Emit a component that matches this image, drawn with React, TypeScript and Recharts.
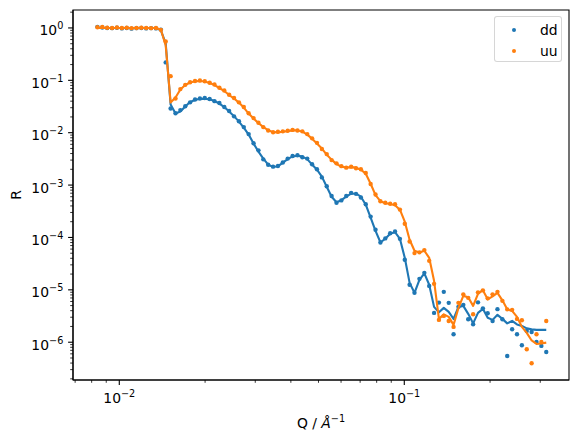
import React from "react";
import {
  ComposedChart,
  Line,
  Scatter,
  XAxis,
  YAxis,
  Legend,
  ReferenceArea,
} from "recharts";

const FONT = "'DejaVu Sans', sans-serif";
const BLUE = "#1f77b4";
const ORANGE = "#ff7f0e";

// Q / Å^-1
const qValues = [
  0.008381, 0.008718, 0.009068, 0.009433, 0.009812, 0.01021, 0.01062, 0.01104, 0.01149, 0.01195,
  0.01243, 0.01293, 0.01345, 0.01399, 0.01455, 0.01514, 0.01575, 0.01638, 0.01704, 0.01772,
  0.01844, 0.01918, 0.01995, 0.02075, 0.02158, 0.02245, 0.02336, 0.02429, 0.02527, 0.02629,
  0.02734, 0.02844, 0.02959, 0.03078, 0.03201, 0.0333, 0.03464, 0.03603, 0.03748, 0.03899,
  0.04056, 0.04219, 0.04388, 0.04565, 0.04748, 0.04939, 0.05138, 0.05344, 0.05559, 0.05783,
  0.06015, 0.06257, 0.06509, 0.0677, 0.07043, 0.07326, 0.0762, 0.07927, 0.08245, 0.08577,
  0.08922, 0.0928, 0.09653, 0.1004, 0.1044, 0.1086, 0.113, 0.1176, 0.1223, 0.1272,
  0.1323, 0.1376, 0.1432, 0.1489, 0.1549, 0.1611, 0.1676, 0.1744, 0.1814, 0.1887,
  0.1962, 0.2041, 0.2123, 0.2209, 0.2297, 0.239, 0.2486, 0.2586, 0.269, 0.2798,
  0.291, 0.3027, 0.3149,
];

// measured reflectivity, dd channel
const ddR = [
  1.05, 1.02, 1.0, 0.99, 1.01, 0.98, 1.0, 0.97, 0.99, 1.0,
  0.98, 0.99, 0.98, 0.93, 0.22, 0.029, 0.0235, 0.027, 0.032, 0.038,
  0.043, 0.045, 0.046, 0.044, 0.04, 0.037, 0.031, 0.026, 0.0205, 0.0165,
  0.0128, 0.0094, 0.0063, 0.0046, 0.0031, 0.00245, 0.00225, 0.00232, 0.0027, 0.0032,
  0.0036, 0.0037, 0.0034, 0.0032, 0.0025, 0.002, 0.0014, 0.00095, 0.00062, 0.00046,
  0.00051, 0.00062, 0.00071, 0.00068, 0.00058, 0.00043, 0.00025, 0.00014, 8.0e-5, 9.6e-5,
  1.2e-4, 1.3e-4, 9.4e-5, 3.75e-5, 1.25e-5, 8.8e-6, 1.62e-5, 2.11e-5, 1.19e-5, 3.63e-6,
  5.71e-6, 9.16e-6, 5.64e-6, 1.42e-6, 4.73e-6, 5.17e-6, 2.75e-6, 2.21e-6, 5.77e-6, 4.43e-6,
  3.58e-6, 2.55e-6, 4.28e-6, 2.75e-6, 5.47e-7, 1.77e-6, 1.42e-6, 8.77e-7, 1.64e-6, 1.57e-6,
  1.01e-6, 8.5e-7, 6.5e-7,
];

// model curve, dd channel
const ddFit = [
  1.0, 1.0, 1.0, 1.0, 1.0, 1.0, 1.0, 1.0, 1.0, 1.0,
  1.0, 1.0, 1.0, 0.896, 0.506, 0.0344, 0.0232, 0.0253, 0.0316, 0.0385,
  0.042, 0.0443, 0.0445, 0.0433, 0.0402, 0.036, 0.0309, 0.0253, 0.0207, 0.0163,
  0.01253, 0.0092, 0.00619, 0.00436, 0.0032, 0.00246, 0.00222, 0.00228, 0.00268, 0.00313,
  0.00352, 0.00365, 0.00349, 0.00313, 0.00246, 0.00197, 0.00145, 0.000932, 0.0006, 0.000471,
  0.000514, 0.0006, 0.000685, 0.000685, 0.0006, 0.000422, 0.000238, 0.000134, 8.09e-5, 9.44e-5,
  1.18e-4, 1.26e-4, 9.44e-5, 4.09e-5, 1.36e-5, 8.77e-6, 1.55e-5, 2.07e-5, 1.25e-5, 4.73e-6,
  3.72e-6, 4.53e-6, 3.79e-6, 2.79e-6, 4.73e-6, 4.94e-6, 3.48e-6, 2.29e-6, 3.63e-6, 4.34e-6,
  2.92e-6, 2.67e-6, 3.33e-6, 2.79e-6, 2.29e-6, 2.55e-6, 2.19e-6, 2.05e-6, 1.84e-6, 1.76e-6,
  1.72e-6, 1.72e-6, 1.72e-6,
];

// measured reflectivity, uu channel
const uuR = [
  1.03, 1.05, 1.01, 1.0, 1.02, 1.0, 1.01, 0.99, 1.0, 1.01,
  1.0, 0.99, 1.0, 0.92, 0.55, 0.12, 0.045, 0.068, 0.082, 0.092,
  0.097, 0.099, 0.096, 0.09, 0.083, 0.072, 0.064, 0.053, 0.046, 0.038,
  0.031, 0.0235, 0.019, 0.0155, 0.0128, 0.011, 0.0102, 0.0104, 0.0106, 0.0109,
  0.0113, 0.011, 0.0106, 0.0094, 0.0078, 0.0064, 0.0049, 0.0039, 0.003, 0.0026,
  0.0023, 0.00215, 0.00225, 0.0021, 0.002, 0.0017, 0.00105, 0.00066, 0.00049, 0.00046,
  0.00044, 0.00043, 0.00034, 1.83e-4, 8.39e-5, 5.03e-5, 5.2e-5, 5.74e-5, 3.58e-5, 1.3e-5,
  2.67e-6, 3.18e-6, 2.55e-6, 1.96e-6, 5.64e-6, 8.2e-6, 7.03e-6, 3.43e-6, 8.95e-6, 9.77e-6,
  6.88e-6, 8.2e-6, 9.16e-6, 6.16e-6, 4.24e-6, 4.15e-6, 2.79e-6, 2.63e-6, 7.35e-7, 3.97e-7,
  1.42e-6, 1.01e-6, 2.55e-6,
];

// model curve, uu channel
const uuFit = [
  1.0, 1.0, 1.0, 1.0, 1.0, 1.0, 1.0, 1.0, 1.0, 1.0,
  1.0, 1.0, 1.0, 0.936, 0.463, 0.0376, 0.0469, 0.0667, 0.0813, 0.0908,
  0.0957, 0.097, 0.0948, 0.0888, 0.0813, 0.0713, 0.0624, 0.0524, 0.0449, 0.0376,
  0.0302, 0.0232, 0.0186, 0.0153, 0.0128, 0.0112, 0.01026, 0.01014, 0.0104, 0.01073,
  0.01106, 0.01106, 0.0105, 0.0092, 0.0077, 0.0062, 0.00497, 0.00381, 0.00306, 0.00251,
  0.00225, 0.00217, 0.0022, 0.00215, 0.00197, 0.00165, 0.00106, 0.000641, 0.000492, 0.000451,
  0.000435, 0.000413, 0.000339, 0.0002, 9.04e-5, 5.57e-5, 5.17e-5, 5.57e-5, 4.09e-5, 1.49e-5,
  2.79e-6, 3.4e-6, 3.05e-6, 2.14e-6, 4.53e-6, 7.67e-6, 7.19e-6, 4.94e-6, 8.39e-6, 9.86e-6,
  6.58e-6, 7.51e-6, 8.77e-6, 6.3e-6, 4.24e-6, 3.96e-6, 3.05e-6, 1.96e-6, 1.51e-6, 1.08e-6,
  9.27e-7, 9.48e-7, 9.82e-7,
];

const X_DOMAIN: [number, number] = [0.00688, 0.3784];
const Y_DOMAIN: [number, number] = [1.9e-7, 2.2];

// decade ticks plus the 2..9 minor ticks inside the domain
function logTicks(lo: number, hi: number) {
  const out: number[] = [];
  for (let e = Math.floor(Math.log10(lo)); e <= Math.ceil(Math.log10(hi)); e++) {
    for (let m = 1; m < 10; m++) {
      const v = m * Math.pow(10, e);
      if (v >= lo && v <= hi) out.push(v);
    }
  }
  return out;
}
const xTicks = logTicks(X_DOMAIN[0], X_DOMAIN[1]);
const yTicks = logTicks(Y_DOMAIN[0], Y_DOMAIN[1]);

const rows = (r: number[]) => qValues.map((q, i) => ({ q, r: r[i] }));
const ddRows = rows(ddR);
const ddFitRows = rows(ddFit);
const uuRows = rows(uuR);
const uuFitRows = rows(uuFit);

function decade(v: number) {
  const p = Math.round(Math.log10(v));
  const major = Math.abs(v / Math.pow(10, p) - 1) < 1e-6;
  return { p, major };
}

const expText = (p: number) => (p < 0 ? "\u2212" + Math.abs(p) : String(p));

function XTick(props: any) {
  const { x, y, payload } = props;
  const { p, major } = decade(payload.value);
  return (
    <g>
      <line x1={x} x2={x} y1={y} y2={y + (major ? 4.9 : 2.8)} stroke="#000" strokeWidth={major ? 1.1 : 0.8} />
      {major && (
        <text x={x} y={y + 23} textAnchor="middle" fontSize={13.9} fontFamily={FONT} fill="#000">
          10
          <tspan dy={-6} fontSize={9.7}>{expText(p)}</tspan>
        </text>
      )}
    </g>
  );
}

function YTick(props: any) {
  const { x, y, payload } = props;
  const { p, major } = decade(payload.value);
  return (
    <g>
      <line x1={x} x2={x - (major ? 4.9 : 2.8)} y1={y} y2={y} stroke="#000" strokeWidth={major ? 1.1 : 0.8} />
      {major && (
        <text x={x - 9.7} y={y + 7.5} textAnchor="end" fontSize={13.9} fontFamily={FONT} fill="#000">
          10
          <tspan dy={-6} fontSize={9.7}>{expText(p)}</tspan>
        </text>
      )}
    </g>
  );
}

const dot = (color: string) => (p: any) => <circle cx={p.cx} cy={p.cy} r={2.2} fill={color} />;

function LegendBox(props: any) {
  const items = (props.payload || []).filter((d: any) => d.type !== "none");
  return (
    <div
      style={{
        width: 68,
        height: 46,
        boxSizing: "border-box",
        border: "1px solid rgba(204,204,204,0.8)",
        borderRadius: 3,
        background: "rgba(255,255,255,0.8)",
        position: "relative",
        fontFamily: FONT,
        fontSize: 13.9,
        color: "#000",
      }}
    >
      {items.map((d: any, i: number) => (
        <div
          key={d.value}
          style={{ position: "absolute", left: 0, top: 4 + i * 21.4, height: 18, display: "flex", alignItems: "center" }}
        >
          <span style={{ width: 4, height: 4, borderRadius: "50%", background: d.color, marginLeft: 17 }} />
          <span style={{ marginLeft: 24, lineHeight: "18px" }}>{d.value}</span>
        </div>
      ))}
    </div>
  );
}

export default function App() {
  return (
    <div style={{ position: "absolute", left: 0, top: 0, width: 578, height: 442, background: "#fff" }}>
      <ComposedChart width={578} height={442} margin={{ top: 10, right: 9, bottom: 22, left: 10 }}>
        <XAxis
          type="number"
          dataKey="q"
          scale="log"
          domain={X_DOMAIN}
          allowDataOverflow
          ticks={xTicks}
          interval={0}
          tickSize={0}
          tickMargin={0}
          tickLine={false}
          tick={<XTick />}
          axisLine={{ stroke: "#000", strokeWidth: 1.1 }}
          height={40}
          label={{
            content: () => (
              <text x={321} y={428} textAnchor="middle" fontSize={13.9} fontFamily={FONT} fill="#000">
                Q /{" "}
                <tspan fontStyle="italic">Å</tspan>
                <tspan dy={-6} fontSize={9.7}>{"\u22121"}</tspan>
              </text>
            ),
          }}
        />
        <YAxis
          type="number"
          dataKey="r"
          scale="log"
          domain={Y_DOMAIN}
          allowDataOverflow
          ticks={yTicks}
          interval={0}
          tickSize={0}
          tickMargin={0}
          tickLine={false}
          tick={<YTick />}
          axisLine={{ stroke: "#000", strokeWidth: 1.1 }}
          width={63}
          label={{
            content: () => (
              <text
                x={20.5}
                y={195}
                textAnchor="middle"
                fontSize={13.9}
                fontFamily={FONT}
                fill="#000"
                transform="rotate(-90 20.5 195)"
              >
                R
              </text>
            ),
          }}
        />
        <ReferenceArea
          x1={X_DOMAIN[0]}
          x2={X_DOMAIN[1]}
          y1={Y_DOMAIN[0]}
          y2={Y_DOMAIN[1]}
          fill="none"
          stroke="#000"
          strokeWidth={1.1}
          ifOverflow="visible"
        />
        <Scatter name="dd" data={ddRows} fill={BLUE} shape={dot(BLUE)} isAnimationActive={false} zIndex={401} />
        <Line
          data={ddFitRows}
          dataKey="r"
          stroke={BLUE}
          strokeWidth={2.1}
          dot={false}
          type="linear"
          legendType="none"
          strokeLinejoin="round"
          isAnimationActive={false}
          zIndex={402}
        />
        <Scatter name="uu" data={uuRows} fill={ORANGE} shape={dot(ORANGE)} isAnimationActive={false} zIndex={403} />
        <Line
          data={uuFitRows}
          dataKey="r"
          stroke={ORANGE}
          strokeWidth={2.1}
          dot={false}
          type="linear"
          legendType="none"
          strokeLinejoin="round"
          isAnimationActive={false}
          zIndex={404}
        />
        <Legend
          layout="vertical"
          align="center"
          verticalAlign="middle"
          wrapperStyle={{ position: "absolute", left: 494, top: 16, width: 68, height: 46 }}
          content={<LegendBox />}
        />
      </ComposedChart>
    </div>
  );
}
